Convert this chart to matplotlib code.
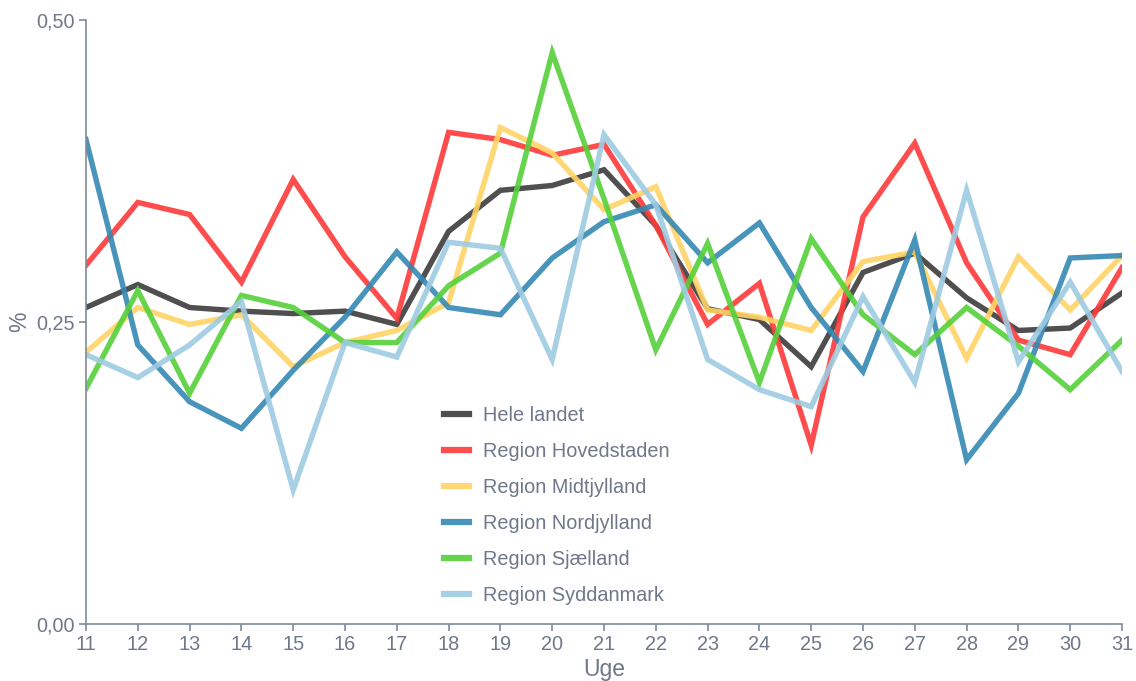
import numpy as np
import matplotlib.pyplot as plt
from matplotlib.ticker import FuncFormatter

plt.rcParams['font.family'] = ['Liberation Sans', 'DejaVu Sans']

weeks = list(range(11, 32))

hele_landet = [0.262, 0.281, 0.262, 0.259, 0.257, 0.259, 0.248, 0.325, 0.359, 0.363, 0.376,
               0.330, 0.261, 0.252, 0.213, 0.291, 0.307, 0.270, 0.243, 0.245, 0.274]
hovedstaden = [0.297, 0.349, 0.339, 0.283, 0.368, 0.304, 0.253, 0.407, 0.401, 0.388, 0.397,
               0.330, 0.248, 0.282, 0.148, 0.337, 0.398, 0.299, 0.235, 0.223, 0.295]
midtjylland = [0.225, 0.262, 0.248, 0.256, 0.213, 0.233, 0.243, 0.266, 0.411, 0.390, 0.343,
               0.362, 0.260, 0.254, 0.243, 0.300, 0.308, 0.220, 0.304, 0.260, 0.305]
nordjylland = [0.401, 0.231, 0.184, 0.162, 0.210, 0.254, 0.308, 0.262, 0.256, 0.303, 0.333,
               0.347, 0.299, 0.332, 0.262, 0.209, 0.318, 0.136, 0.191, 0.303, 0.305]
sjaelland = [0.195, 0.276, 0.191, 0.272, 0.262, 0.233, 0.233, 0.280, 0.307, 0.473, 0.352,
             0.227, 0.315, 0.200, 0.319, 0.256, 0.223, 0.262, 0.230, 0.194, 0.235]
syddanmark = [0.223, 0.204, 0.231, 0.267, 0.111, 0.233, 0.221, 0.316, 0.311, 0.219, 0.405,
              0.347, 0.219, 0.194, 0.180, 0.271, 0.200, 0.359, 0.217, 0.283, 0.209]

series = [
    ("Hele landet", hele_landet, "#3c3c3c"),
    ("Region Hovedstaden", hovedstaden, "#ff3a3a"),
    ("Region Midtjylland", midtjylland, "#ffd466"),
    ("Region Nordjylland", nordjylland, "#3589b4"),
    ("Region Sjælland", sjaelland, "#55d13a"),
    ("Region Syddanmark", syddanmark, "#9ecbe2"),
]

text_col = "#6e7889"
axis_col = "#7f8a99"

fig = plt.figure(figsize=(11.36, 6.81), dpi=100)
ax = fig.add_axes([86 / 1136, 57 / 681, 1036 / 1136, 604 / 681])

for name, vals, col in series:
    ax.plot(weeks, vals, color=col, lw=3.9, alpha=0.9, label=name, solid_joinstyle="miter")

ax.set_xlim(11, 31)
ax.set_ylim(0, 0.5)
ax.set_xticks(weeks)
ax.set_yticks([0, 0.25, 0.5])
ax.yaxis.set_major_formatter(FuncFormatter(lambda v, p: f"{v:.2f}".replace(".", ",")))

for s in ["top", "right"]:
    ax.spines[s].set_visible(False)
for s in ["left", "bottom"]:
    ax.spines[s].set_color(axis_col)
    ax.spines[s].set_linewidth(1.2)
ax.tick_params(colors=axis_col, labelcolor=text_col, labelsize=14.3, length=5, width=1.2, pad=3)

ax.set_xlabel("Uge", color=text_col, fontsize=16.5, labelpad=3)
ax.set_ylabel("%", color=text_col, fontsize=16.5, labelpad=4)

leg = ax.legend(loc="upper left", bbox_to_anchor=(426 / 1136, 1 - 388 / 681),
                bbox_transform=fig.transFigure, frameon=False, fontsize=14.3,
                handlelength=1.25, handletextpad=0.7, labelspacing=0.86)
for t in leg.get_texts():
    t.set_color(text_col)
for h in leg.get_lines():
    h.set_linewidth(4.5)

plt.savefig("out.png", dpi=100)
